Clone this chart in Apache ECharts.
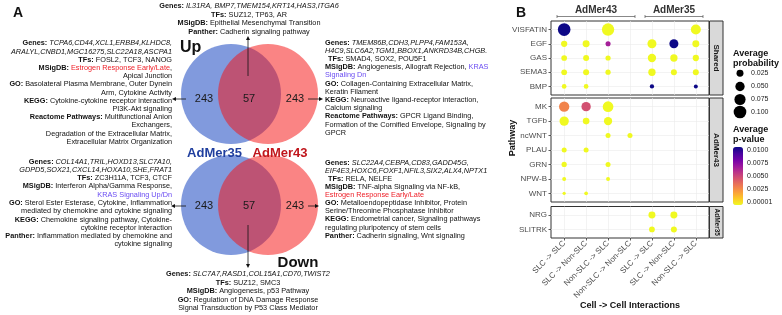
<!DOCTYPE html>
<html><head><meta charset="utf-8">
<script src="https://cdn.jsdelivr.net/npm/echarts@6/dist/echarts.min.js"></script>
<style>html,body{margin:0;padding:0;background:#fff}#c{width:782px;height:315px}</style>
</head><body><div id="c"></div><script>
// ---------------- DATA ----------------
const interactions = ['SLC -> SLC','SLC -> Non-SLC','Non-SLC -> SLC','Non-SLC -> Non-SLC','SLC -> SLC','SLC -> Non-SLC','Non-SLC -> SLC'];
const sharedPathways = ['VISFATIN','EGF','GAS','SEMA3','BMP'];
const admer43Pathways = ['MK','TGFb','ncWNT','PLAU','GRN','NPW-B','WNT'];
const admer35Pathways = ['NRG','SLITRK'];
// [interaction index, pathway index, average probability, average p-value]
const sharedPoints = [
  [0,0,0.100,0.0100],[2,0,0.094,0.00001],[6,0,0.058,0.00001],
  [0,1,0.019,0.00001],[1,1,0.025,0.00001],[2,1,0.011,0.0064],[4,1,0.046,0.00001],[5,1,0.046,0.0100],[6,1,0.025,0.00001],
  [0,2,0.015,0.00001],[1,2,0.017,0.00001],[2,2,0.012,0.00001],[4,2,0.038,0.00001],[5,2,0.028,0.00001],[6,2,0.019,0.00001],
  [0,3,0.015,0.00001],[1,3,0.017,0.00001],[2,3,0.012,0.00001],[4,3,0.028,0.00001],[5,3,0.017,0.00001],[6,3,0.017,0.00001],
  [0,4,0.009,0.00001],[1,4,0.009,0.00001],[4,4,0.007,0.0100],[6,4,0.0056,0.0100]
];
const admer43Points = [
  [0,0,0.063,0.0030],[1,0,0.050,0.0047],[2,0,0.068,0.00001],
  [0,1,0.050,0.00001],[1,1,0.022,0.00001],[2,1,0.038,0.00001],
  [2,2,0.0106,0.00001],[3,2,0.0106,0.00001],
  [0,3,0.0106,0.00001],[1,3,0.0106,0.00001],
  [0,4,0.012,0.00001],[2,4,0.0106,0.00001],
  [0,5,0.0056,0.00001],[2,5,0.0056,0.00001],
  [0,6,0.003,0.00001],[1,6,0.0044,0.00001]
];
const admer35Points = [
  [4,0,0.025,0.00001],[5,0,0.025,0.00001],
  [4,1,0.015,0.00001],[5,1,0.017,0.00001]
];
const sizeBreaks = [0.025,0.050,0.075,0.100];
const sizeLabels = ['0.025','0.050','0.075','0.100'];
const pTicks = [0.0100,0.0075,0.0050,0.0025,0.00001];
const pLabels = ['0.0100','0.0075','0.0050','0.0025','0.00001'];
const vennCounts = {up:[243,57,243], down:[243,57,243]};

// ---------------- STYLE HELPERS ----------------
const FONT = '"Liberation Sans", Arial, sans-serif';
const FS = 7.3;
const plasmaLowToHigh = ['#F0F921','#FDC926','#FA9E3B','#ED7953','#D8576B','#BD3786','#9C179E','#7301A8','#47039F','#0D0887'];
const sizeFn = p => 1.3 + 36*Math.sqrt(p);
const rich = {
  b:{fontWeight:'bold',fontSize:FS,fontFamily:FONT,fill:'#111'},
  i:{fontStyle:'italic',fontSize:FS,fontFamily:FONT,fill:'#111'},
  r:{fontSize:FS,fontFamily:FONT,fill:'#EE1C25'},
  u:{fontSize:FS,fontFamily:FONT,fill:'#6A4CF2'}
};
function textLine(x,y,align,t){
  return {type:'text',x:x,y:y,silent:true,style:{text:t,align:align,verticalAlign:'middle',fontSize:FS,fontFamily:FONT,fill:'#111',rich:rich}};
}
function block(lines,x,y0,dy,align){
  return lines.map((t,k)=>textLine(x + (/^ \{b\|TFs/.test(t)?1:0), y0+k*dy, align, t));
}
function label(x,y,t,o){
  o=o||{};
  return {type:'text',x:x,y:y,rotation:o.rot||0,silent:true,style:{text:t,align:o.align||'center',verticalAlign:'middle',
    fontSize:o.fs||9,fontWeight:o.fw||'normal',fontFamily:FONT,fill:o.fill||'#111'}};
}
function arrow(x1,y1,x2,y2){
  const a=Math.atan2(y2-y1,x2-x1), L=4, W=2;
  const c=Math.cos(a), s=Math.sin(a);
  return [
    {type:'line',silent:true,shape:{x1:x1,y1:y1,x2:x2-c*2,y2:y2-s*2},style:{stroke:'#111',lineWidth:0.8}},
    {type:'polygon',silent:true,shape:{points:[[x2,y2],[x2-L*c+W*s,y2-L*s-W*c],[x2-L*c-W*s,y2-L*s+W*c]]},style:{fill:'#111'}}
  ];
}

// ---------------- PANEL A TEXT ----------------
const upLeft = [
 '{b|Genes:} {i|TCPA6,CD44,XCL1,ERBB4,KLHDC8,}',
 '{i|ARALYL,CNBD1,MGC16275,SLC22A18,ASCPA1}',
 '{b|TFs:} FOSL2, TCF3, NANOG',
 '{b|MSigDB:} {r|Estrogen Response Early/Late},',
 'Apical Junction',
 '{b|GO:} Basolateral Plasma Membrane, Outer Dynein',
 'Arm, Cytokine Activity',
 '{b|KEGG:} Cytokine-cytokine receptor interaction',
 'PI3K-Akt signaling',
 '{b|Reactome Pathways:} Multifunctional Anion',
 'Exchangers,',
 'Degradation of the Extracellular Matrix,',
 'Extracellular Matrix Organization'
];
const upTop = [
 '{b|Genes:} {i|IL31RA, BMP7,TMEM154,KRT14,HAS3,ITGA6}',
 '{b|TFs:} SUZ12, TP63, AR',
 '{b|MSigDB:} Epithelial Mesenchymal Transition',
 '{b|Panther:} Cadherin signaling pathway'
];
const upRight = [
 '{b|Genes:} {i|TMEM86B,CDH3,PLPP4,FAM153A,}',
 '{i|H4C9,SLC6A2,TGM1,BBOX1,ANKRD34B,CHGB.}',
 ' {b|TFs:} SMAD4, SOX2, POU5F1',
 '{b|MSigDB:} Angiogenesis, Allograft Rejection, {u|KRAS}',
 '{u|Signaling Dn}',
 '{b|GO:} Collagen-Containing Extracellular Matrix,',
 'Keratin Filament',
 '{b|KEGG:} Neuroactive ligand-receptor interaction,',
 'Calcium signaling',
 '{b|Reactome Pathways:} GPCR Ligand Binding,',
 'Formation of the Cornified Envelope, Signaling by',
 'GPCR'
];
const downLeft = [
 '{b|Genes:} {i|COL14A1,TRIL,HOXD13,SLC7A10,}',
 '{i|GDPD5,SOX21,CXCL14,HOXA10,SHE,FRAT1}',
 '{b|TFs:} ZC3H11A, TCF3, CTCF',
 '{b|MSigDB:} Interferon Alpha/Gamma Response,',
 '{u|KRAS Signaling Up/Dn}',
 '{b|GO:} Sterol Ester Esterase, Cytokine, Inflammation',
 'mediated by chemokine and cytokine signaling',
 '{b|KEGG:} Chemokine signaling pathway, Cytokine-',
 'cytokine receptor interaction',
 '{b|Panther:} Inflammation mediated by chemokine and',
 'cytokine signaling'
];
const downRight = [
 '{b|Genes:} {i|SLC22A4,CEBPA,CD83,GADD45G,}',
 '{i|EIF4E3,HOXC6,FOXF1,NFIL3,SIX2,ALX4,NPTX1}',
 ' {b|TFs:} RELA, NELFE',
 '{b|MSigDB:} TNF-alpha Signaling via NF-kB,',
 '{r|Estrogen Response Early/Late}',
 '{b|GO:} Metalloendopeptidase Inhibitor, Protein',
 'Serine/Threonine Phosphatase Inhibitor',
 '{b|KEGG:} Endometrial cancer, Signaling pathways',
 'regulating pluripotency of stem cells',
 '{b|Panther:} Cadherin signaling, Wnt signaling'
];
const downBottom = [
 '{b|Genes:} {i|SLC7A7,RASD1,COL15A1,CD70,TWIST2}',
 '{b|TFs:} SUZ12, SMC3',
 '{b|MSigDB:} Angiogenesis, p53 Pathway',
 '{b|GO:} Regulation of DNA Damage Response',
 'Signal Transduction by P53 Class Mediator'
];

const BLUE = 'rgba(30,75,195,0.56)';
const RED = 'rgba(245,20,20,0.52)';
function venn(cy, ny, counts){
  return [
    {type:'circle',silent:true,shape:{cx:231,cy:cy,r:50},style:{fill:BLUE}},
    {type:'circle',silent:true,shape:{cx:268,cy:cy,r:50},style:{fill:RED}},
    label(204,ny,String(counts[0]),{fs:11,fill:'#1a1a1a'}),
    label(249,ny,String(counts[1]),{fs:11,fill:'#1a1a1a'}),
    label(295,ny,String(counts[2]),{fs:11,fill:'#1a1a1a'})
  ];
}

let g = [];
g.push(label(18,13,'A',{fs:14,fw:'bold'}));
g = g.concat(venn(94,99,vennCounts.up), venn(205,206,vennCounts.down));
g.push(label(180,48,'Up',{fs:16,fw:'bold',align:'left'}));
g.push(label(298,263,'Down',{fs:15,fw:'bold'}));
g.push(label(214.5,153.5,'AdMer35',{fs:13,fw:'bold',fill:'#1F3E9E'}));
g.push(label(280,153.5,'AdMer43',{fs:13,fw:'bold',fill:'#C0161C'}));
g = g.concat(block(upLeft,172,43.3,8.2,'right'), block(upTop,249,6,8.7,'center'), block(upRight,325,42.6,8.2,'left'),
             block(downLeft,172,161.7,8.26,'right'), block(downRight,325,162.7,8.1,'left'), block(downBottom,248,274.3,8.5,'center'));
g = g.concat(arrow(186,99,172,99), arrow(248,76,248,36), arrow(308,99,323,99),
             arrow(186,206,171,206), arrow(248,225,248,268), arrow(308,206,319,206));

// ---------------- PANEL B ANNOTATIONS ----------------
g.push(label(521,13,'B',{fs:14,fw:'bold'}));
function bracket(x1,x2,y,t){
  return [
    {type:'line',silent:true,shape:{x1:x1,y1:y,x2:x2,y2:y},style:{stroke:'#555',lineWidth:0.7}},
    {type:'line',silent:true,shape:{x1:x1,y1:y-1.5,x2:x1,y2:y+1.5},style:{stroke:'#555',lineWidth:0.7}},
    {type:'line',silent:true,shape:{x1:x2,y1:y-1.5,x2:x2,y2:y+1.5},style:{stroke:'#555',lineWidth:0.7}},
    label((x1+x2)/2,y-6,t,{fs:10,fw:'bold',fill:'#333'})
  ];
}
g = g.concat(bracket(557,635,16.5,'AdMer43'), bracket(645,703,16.5,'AdMer35'));
const strips = [[21,74,'Shared',8],[98,104,'AdMer43',8],[206.5,31.5,'AdMer35',6.5]];
strips.forEach(s=>{
  g.push({type:'rect',silent:true,shape:{x:709.5,y:s[0],width:13.5,height:s[1]},style:{fill:'#D9D9D9',stroke:'#333',lineWidth:1}});
  g.push(label(716.5,s[0]+s[1]/2,s[2],{fs:s[3],fw:'bold',fill:'#1A1A1A',rot:-Math.PI/2}));
});
g.push(label(513,138,'Pathway',{fs:9,fw:'bold',rot:Math.PI/2}));
g.push(label(630,306,'Cell -> Cell Interactions',{fs:9,fw:'bold'}));
// legends
g.push(label(733,53.3,'Average',{fs:9,fw:'bold',align:'left'}));
g.push(label(733,63.5,'probability',{fs:9,fw:'bold',align:'left'}));
const sizeY = [73.3,86.5,99.5,112];
sizeBreaks.forEach((v,k)=>{
  g.push({type:'circle',silent:true,shape:{cx:740,cy:sizeY[k],r:sizeFn(v)/2},style:{fill:'#000'}});
  g.push(label(751,sizeY[k],sizeLabels[k],{fs:7,align:'left',fill:'#1A1A1A'}));
});
g.push(label(733,129.5,'Average',{fs:9,fw:'bold',align:'left'}));
g.push(label(733,140,'p-value',{fs:9,fw:'bold',align:'left'}));
const barTop=147, barH=58, pMin=0.00001, pMax=0.01;
pTicks.forEach((v,k)=>{
  const yy = barTop + 3 + (pMax - v)/(pMax-pMin)*(barH-6);
  g.push(label(747,yy,pLabels[k],{fs:7,align:'left',fill:'#1A1A1A'}));
});

// ---------------- CHART ----------------
const idx = n => Array.from({length:n},(_,k)=>k);
const panels = [
  {top:21,height:74,cats:sharedPathways,pts:sharedPoints},
  {top:98,height:104,cats:admer43Pathways,pts:admer43Points},
  {top:206.5,height:31.5,cats:admer35Pathways,pts:admer35Points}
];
const grids=[], xAxes=[], yAxes=[], series=[];
panels.forEach((p,k)=>{
  const bottom = k===panels.length-1;
  grids.push({left:551,top:p.top,width:158,height:p.height,show:true,borderColor:'#333',borderWidth:1,backgroundColor:'#fff'});
  xAxes.push({type:'value',gridIndex:k,min:-0.6,max:6.6,position:'bottom',
    axisLine:{show:false,onZero:false},
    axisTick:{show:bottom,customValues:idx(interactions.length),length:2.5,lineStyle:{color:'#333',width:0.8}},
    axisLabel:{show:bottom,customValues:idx(interactions.length),rotate:45,fontSize:8,color:'#4D4D4D',fontFamily:FONT,margin:4,
      formatter:v=>interactions[Math.round(v)]},
    splitLine:{show:true,lineStyle:{color:'#EBEBEB',width:0.6}}});
  yAxes.push({type:'value',gridIndex:k,inverse:true,min:-0.6,max:p.cats.length-0.4,position:'left',
    axisLine:{show:false,onZero:false},
    axisTick:{show:true,customValues:idx(p.cats.length),length:2.5,lineStyle:{color:'#333',width:0.8}},
    axisLabel:{customValues:idx(p.cats.length),fontSize:8,color:'#4D4D4D',fontFamily:FONT,margin:4,
      formatter:v=>p.cats[Math.round(v)]},
    splitLine:{show:true,lineStyle:{color:'#EBEBEB',width:0.6}}});
  series.push({type:'scatter',xAxisIndex:k,yAxisIndex:k,data:p.pts,symbolSize:v=>sizeFn(v[2]),
    itemStyle:{opacity:1},silent:true});
});

const chart = echarts.init(document.getElementById('c'),null,{renderer:'canvas'});
chart.setOption({
  animation:false,
  backgroundColor:'#fff',
  grid:grids, xAxis:xAxes, yAxis:yAxes, series:series,
  visualMap:{type:'continuous',dimension:3,min:pMin,max:pMax,seriesIndex:[0,1,2],
    inRange:{color:plasmaLowToHigh},show:true,orient:'vertical',left:733,top:barTop,
    itemWidth:10,itemHeight:barH,calculable:false,padding:0,text:null,hoverLink:false},
  graphic:{elements:g}
});
</script></body></html>
